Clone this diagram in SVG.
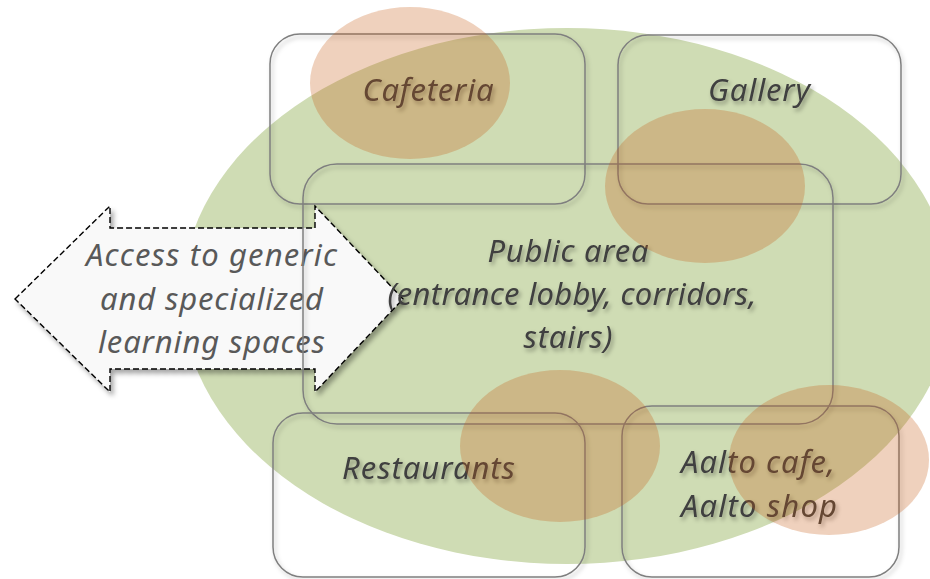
<svg xmlns="http://www.w3.org/2000/svg" width="930" height="579" viewBox="0 0 930 579">
  <style>
    .box { fill: none; stroke: #7f7f7f; stroke-width: 1.5; filter: url(#boxShadow); }
    .lbl { font-family: "Noto Sans", "Open Sans", "Liberation Sans", sans-serif; font-style: italic; font-size: 31px; fill: #3f3f3f; text-anchor: middle; filter: url(#textShadow); }
    .arrowLbl { font-family: "Noto Sans", "Open Sans", "Liberation Sans", sans-serif; font-style: italic; font-size: 31px; fill: #595959; text-anchor: middle; }
    .hl { fill: #c55a11; fill-opacity: 0.28; }
  </style>
  <defs>
    <filter id="boxShadow" x="-5%" y="-5%" width="115%" height="115%">
      <feDropShadow dx="2" dy="3" stdDeviation="2" flood-color="#000" flood-opacity="0.25"/>
    </filter>
    <filter id="textShadow" x="-10%" y="-20%" width="130%" height="150%">
      <feDropShadow dx="2" dy="3" stdDeviation="2" flood-color="#000" flood-opacity="0.35"/>
    </filter>
    <filter id="arrowShadow" x="-10%" y="-10%" width="125%" height="125%">
      <feDropShadow dx="3" dy="4" stdDeviation="2.5" flood-color="#000" flood-opacity="0.35"/>
    </filter>
  </defs>

  <g id="background">
    <ellipse cx="567" cy="296" rx="385" ry="268" fill="#cfdcb4"/>
  </g>

  <g id="connectors">
    <g id="access-arrow">
      <polygon points="15,299 110,206 110,228 315,228 315,206 403,299 315,392 315,369 110,369 110,392" fill="#f9f9f9" stroke="#000" stroke-width="1.4" stroke-dasharray="6 3" filter="url(#arrowShadow)"/>
      <text class="arrowLbl" x="211.5" y="266" textLength="251">Access to generic</text>
      <text class="arrowLbl" x="211.5" y="310" textLength="223">and specialized</text>
      <text class="arrowLbl" x="211.5" y="353" textLength="227">learning spaces</text>
    </g>
  </g>

  <g id="cafeteria">
    <rect class="box" x="270" y="34" width="315" height="170" rx="30"/>
    <text class="lbl" x="428" y="101" textLength="131">Cafeteria</text>
  </g>

  <g id="gallery">
    <rect class="box" x="618" y="35" width="283" height="169" rx="30"/>
    <text class="lbl" x="759" y="101" textLength="102">Gallery</text>
  </g>

  <g id="public-area">
    <rect class="box" x="303" y="164" width="530" height="260" rx="34"/>
    <text class="lbl" x="568" y="262" textLength="161">Public area</text>
    <text class="lbl" x="572" y="305" textLength="369">(entrance lobby, corridors,</text>
    <text class="lbl" x="568" y="348" textLength="89">stairs)</text>
  </g>

  <g id="restaurants">
    <rect class="box" x="273" y="413" width="312" height="164" rx="30"/>
    <text class="lbl" x="428.5" y="479" textLength="173">Restaurants</text>
  </g>

  <g id="aalto">
    <rect class="box" x="622" y="406" width="277" height="171" rx="30"/>
    <text class="lbl" x="758" y="473" textLength="154">Aalto cafe,</text>
    <text class="lbl" x="759" y="517" textLength="156">Aalto shop</text>
  </g>

  <g id="highlights">
    <ellipse class="hl" cx="410" cy="83" rx="100" ry="76"/>
    <ellipse class="hl" cx="705" cy="186" rx="100" ry="77"/>
    <ellipse class="hl" cx="560" cy="446" rx="100" ry="76"/>
    <ellipse class="hl" cx="829" cy="460" rx="100" ry="75"/>
  </g>
</svg>
